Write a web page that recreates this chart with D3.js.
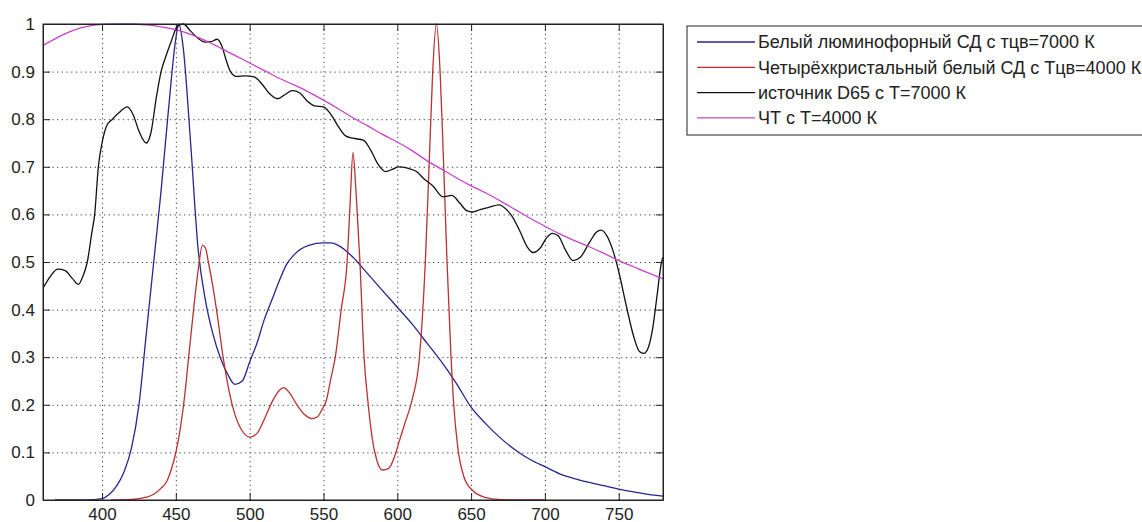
<!DOCTYPE html>
<html>
<head>
<meta charset="utf-8">
<script src="https://cdn.jsdelivr.net/npm/d3@7"></script>
<style>
  body { margin: 0; background: #fff; }
  svg { display: block; }
  text { font-family: "Liberation Sans", Arial, sans-serif; fill: #222; }
  .grid line { stroke: #3a3a3a; stroke-dasharray: 1.2,3.5; }
  .grid path { display: none; }
  .axis path, .axis line { stroke: #222; }
</style>
</head>
<body>
<svg id="graphsvg" width="1142" height="522"></svg>
<script>
// wavelength ticks and value ticks
var xTicks = [400, 450, 500, 550, 600, 650, 700, 750];
var yTicks = [0, 0.1, 0.2, 0.3, 0.4, 0.5, 0.6, 0.7, 0.8, 0.9, 1];

var seriesNames = [
  "Белый люминофорный СД с тцв=7000 К",
  "Четырёхкристальный белый СД с Тцв=4000 К",
  "источник D65 с Т=7000 К",
  "ЧТ с Т=4000 К"
];
var seriesColors = ["#26268f", "#bb3030", "#111111", "#c843c8"];

// [wavelength, relative value]
var phosphorLed = [
  [368,0],[380,0],[390,0],[400,0.003],[405,0.012],[410,0.03],[415,0.06],[420,0.11],
  [425,0.2],[430,0.35],[435,0.5],[440,0.65],[445,0.82],[450,0.97],[452,1.0],[455,0.95],
  [460,0.75],[465,0.53],[470,0.42],[475,0.35],[480,0.3],[485,0.265],[490,0.243],[495,0.25],
  [500,0.29],[505,0.33],[510,0.38],[515,0.42],[520,0.46],[525,0.495],[530,0.515],[540,0.535],
  [550,0.54],[555,0.54],[560,0.535],[570,0.51],[580,0.475],[590,0.44],[600,0.405],[610,0.37],
  [620,0.33],[630,0.29],[640,0.245],[650,0.195],[660,0.16],[670,0.13],[680,0.105],[690,0.085],
  [700,0.07],[710,0.055],[720,0.045],[730,0.037],[740,0.03],[750,0.023],[760,0.017],[770,0.012],
  [780,0.008]
];

var fourChipLed = [
  [406,0],[420,0.001],[430,0.006],[435,0.012],[440,0.025],[444,0.04],[447,0.065],[450,0.1],
  [453,0.15],[456,0.22],[459,0.31],[462,0.4],[465,0.48],[468,0.535],[470,0.53],[472,0.5],
  [475,0.45],[478,0.39],[482,0.3],[486,0.23],[490,0.18],[495,0.145],[500,0.132],[505,0.14],
  [510,0.17],[515,0.205],[520,0.23],[523,0.236],[527,0.225],[532,0.2],[537,0.18],[542,0.171],
  [546,0.175],[549,0.19],[552,0.21],[555,0.255],[558,0.3],[562,0.4],[566,0.5],[568,0.62],
  [570,0.73],[572,0.65],[574.7,0.5],[577.5,0.3],[580,0.21],[583,0.13],[586,0.085],[590,0.063],
  [594,0.066],[598,0.09],[601,0.12],[605,0.16],[610,0.21],[615,0.3],[619,0.5],[622,0.74],
  [624,0.9],[626.5,1.0],[629,0.9],[631,0.74],[633.7,0.5],[636.4,0.3],[638,0.21],[641,0.11],
  [645,0.05],[651,0.02],[657,0.008],[663,0.003],[670,0.001],[680,0],[700,0]
];

var d65 = [
  [360,0.445],[365,0.47],[370,0.485],[375,0.482],[380,0.465],[384,0.453],[387,0.47],[390,0.5],
  [393,0.56],[395,0.6],[397.5,0.7],[400,0.75],[403,0.785],[407,0.8],[412,0.815],[417,0.826],
  [421,0.81],[425,0.775],[430,0.75],[433,0.77],[437,0.85],[440,0.9],[443,0.93],[447,0.965],
  [451,0.995],[455,1.0],[460,0.985],[465,0.97],[470,0.962],[474,0.963],[478,0.968],[481,0.955],
  [484,0.925],[487,0.9],[491,0.89],[497,0.891],[503,0.889],[508,0.875],[513,0.855],[519,0.843],
  [524,0.852],[529,0.86],[534,0.855],[539,0.838],[544,0.828],[550,0.826],[555,0.81],[560,0.785],
  [565,0.765],[570,0.76],[577,0.756],[582,0.735],[587,0.705],[592,0.69],[597,0.695],[601,0.7],
  [607,0.697],[613,0.69],[618,0.675],[624,0.66],[631,0.637],[637,0.64],[642,0.625],[647,0.608],
  [651,0.605],[656,0.61],[662,0.615],[669,0.62],[674,0.61],[678,0.595],[683,0.565],[688,0.532],
  [692,0.52],[697,0.53],[701,0.55],[705,0.56],[709,0.555],[714,0.525],[719,0.503],[724,0.51],
  [730,0.54],[735,0.563],[738,0.567],[742,0.555],[746,0.525],[750,0.48],[755,0.41],[760,0.345],
  [764,0.312],[767,0.308],[770,0.32],[773,0.36],[776,0.43],[779,0.5],[780,0.51]
];

var blackBody = [
  [360,0.955],[370,0.972],[380,0.986],[390,0.995],[400,0.999],[410,1.0],[420,1.0],[430,0.998],
  [440,0.994],[450,0.988],[460,0.978],[470,0.965],[480,0.95],[490,0.934],[500,0.918],[510,0.902],
  [520,0.886],[530,0.872],[540,0.857],[550,0.84],[560,0.822],[570,0.803],[580,0.786],[590,0.768],
  [600,0.752],[610,0.734],[620,0.713],[630,0.695],[640,0.677],[650,0.66],[660,0.645],[670,0.628],
  [680,0.61],[690,0.592],[700,0.575],[710,0.559],[720,0.545],[730,0.532],[740,0.518],[750,0.503],
  [760,0.49],[770,0.477],[780,0.465]
];

var allSeries = [phosphorLed, fourChipLed, d65, blackBody];

var svg = d3.select("#graphsvg"),
    margin = {top: 24, left: 43},
    width = 620,
    height = 476;

var x = d3.scaleLinear().domain([360, 780]).range([0, width]);
var y = d3.scaleLinear().domain([0, 1]).range([height, 0]);

var g = svg.append("g")
    .attr("transform", "translate(" + margin.left + "," + margin.top + ")");

g.append("clipPath").attr("id", "plotclip")
  .append("rect").attr("x", 0).attr("y", -1).attr("width", width).attr("height", height + 2);

// dotted grid
g.append("g")
    .attr("class", "grid")
    .attr("transform", "translate(0," + height + ")")
    .call(d3.axisBottom(x).tickValues(xTicks).tickSize(-height).tickFormat(""));
g.append("g")
    .attr("class", "grid")
    .call(d3.axisLeft(y).tickValues(yTicks.slice(1, -1)).tickSize(-width).tickFormat(""));

// curves
var line = d3.line()
    .x(function(d) { return x(d[0]); })
    .y(function(d) { return y(d[1]); })
    .curve(d3.curveMonotoneX);

g.append("g").attr("clip-path", "url(#plotclip)")
  .selectAll(".curve")
  .data(allSeries)
  .enter().append("path")
    .attr("class", "curve")
    .attr("fill", "none")
    .attr("stroke-width", 1.3)
    .attr("stroke", function(d, i) { return seriesColors[i]; })
    .attr("d", line);

// axes, ticks inward on all four sides
var xb = g.append("g")
    .attr("class", "axis")
    .attr("transform", "translate(0," + height + ")")
    .call(d3.axisBottom(x).tickValues(xTicks).tickSizeInner(-7).tickSizeOuter(0).tickPadding(8));
xb.selectAll("text").style("font-size", "17px");

var yl = g.append("g")
    .attr("class", "axis")
    .call(d3.axisLeft(y).tickValues(yTicks).tickSizeInner(-7).tickSizeOuter(0).tickPadding(8)
      .tickFormat(function(d) { return d3.format("")(+d.toFixed(1)); }));
yl.selectAll("text").style("font-size", "17px");

g.append("g")
    .attr("class", "axis")
    .call(d3.axisTop(x).tickValues(xTicks).tickSizeInner(-7).tickSizeOuter(0).tickFormat(""));
g.append("g")
    .attr("class", "axis")
    .attr("transform", "translate(" + width + ",0)")
    .call(d3.axisRight(y).tickValues(yTicks).tickSizeInner(-7).tickSizeOuter(0).tickFormat(""));

g.append("rect")
    .attr("width", width).attr("height", height)
    .attr("fill", "none").attr("stroke", "#222");

// legend
var legend = svg.append("g").attr("transform", "translate(687,26)");
legend.append("rect")
    .attr("width", 480).attr("height", 109)
    .attr("fill", "#fff").attr("stroke", "#222");
var items = legend.selectAll(".item")
    .data(seriesNames)
  .enter().append("g")
    .attr("class", "item")
    .attr("transform", function(d, i) { return "translate(0," + (16 + i * 25.3) + ")"; });
items.append("line")
    .attr("x1", 10).attr("x2", 68)
    .attr("stroke-width", 1.3)
    .attr("stroke", function(d, i) { return seriesColors[i]; });
items.append("text")
    .attr("x", 71)
    .attr("dy", "0.36em")
    .style("font-size", "18px")
    .text(function(d) { return d; });
</script>
</body>
</html>
